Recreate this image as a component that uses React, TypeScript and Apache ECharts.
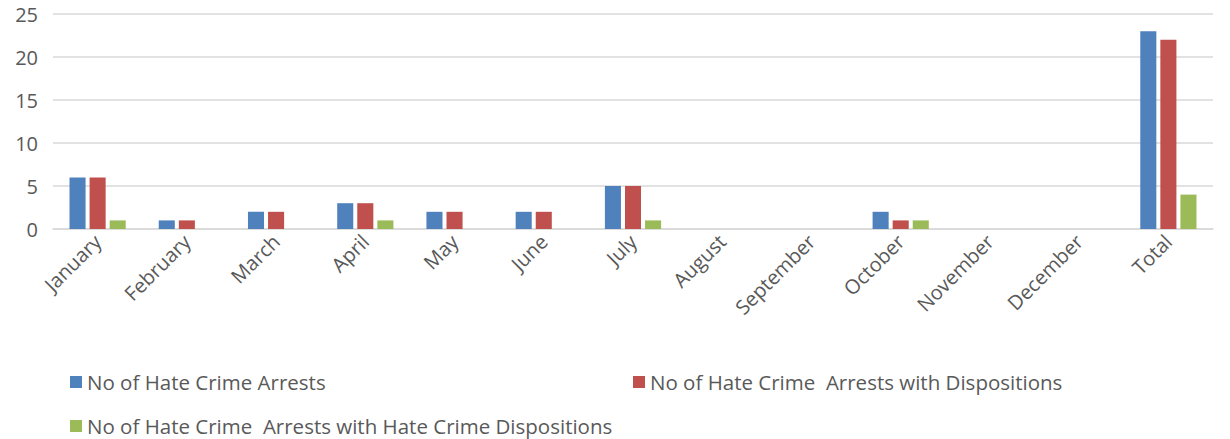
import React, { useEffect, useRef } from "react";
import * as echarts from "echarts";

const categories = ["January", "February", "March", "April", "May", "June", "July", "August", "September", "October", "November", "December", "Total"];
const arrests = [6, 1, 2, 3, 2, 2, 5, 0, 0, 2, 0, 0, 23];
const arrestsWithDispositions = [6, 1, 2, 3, 2, 2, 5, 0, 0, 1, 0, 0, 22];
const arrestsWithHateDispositions = [1, 0, 0, 1, 0, 0, 1, 0, 0, 1, 0, 0, 4];
const seriesNames = [
  "No of Hate Crime Arrests",
  "No of Hate Crime  Arrests with Dispositions",
  "No of Hate Crime  Arrests with Hate Crime Dispositions",
];
const colors = ["#4f81bd", "#c0504d", "#9bbb59"];

export default function App() {
  const ref = useRef<HTMLDivElement>(null);
  useEffect(() => {
    document.body.style.margin = "0";
    const chart = echarts.init(ref.current!, null, { renderer: "svg" });
    const font = "Open Sans";
    const txt = { color: "#595959", fontFamily: font, fontSize: 20 };
    const legendBase = {
      itemWidth: 12,
      itemHeight: 12,
      itemGap: 6,
      icon: "rect",
      padding: 2,
      textStyle: { ...txt, fontSize: 20.5, lineHeight: 22 },
    };
    chart.setOption({
      animation: false,
      color: colors,
      grid: { left: 53, right: 17, top: 14, bottom: 210, containLabel: false },
      legend: [
        { ...legendBase, data: [seriesNames[0]], left: 68, top: 369 },
        { ...legendBase, data: [seriesNames[1]], left: 631, top: 369 },
        { ...legendBase, data: [seriesNames[2]], left: 68, top: 413 },
      ],
      xAxis: {
        type: "category",
        data: categories,
        axisLine: { lineStyle: { color: "#d9d9d9", width: 1.5 } },
        axisTick: { show: false },
        axisLabel: { ...txt, rotate: 45, margin: 9, interval: 0 },
      },
      yAxis: {
        type: "value",
        min: 0,
        max: 25,
        interval: 5,
        axisLine: { show: false },
        axisTick: { show: false },
        splitLine: { lineStyle: { color: "#d9d9d9", width: 1.5 } },
        axisLabel: { ...txt, fontSize: 20, margin: 15 },
      },
      series: [
        { name: seriesNames[0], type: "bar", data: arrests, barGap: "25%", barCategoryGap: "37%" },
        { name: seriesNames[1], type: "bar", data: arrestsWithDispositions, barGap: "25%", barCategoryGap: "37%" },
        { name: seriesNames[2], type: "bar", data: arrestsWithHateDispositions, barGap: "25%", barCategoryGap: "37%" },
      ],
    });
    return () => chart.dispose();
  }, []);
  return <div ref={ref} style={{ width: 1230, height: 439 }} />;
}
